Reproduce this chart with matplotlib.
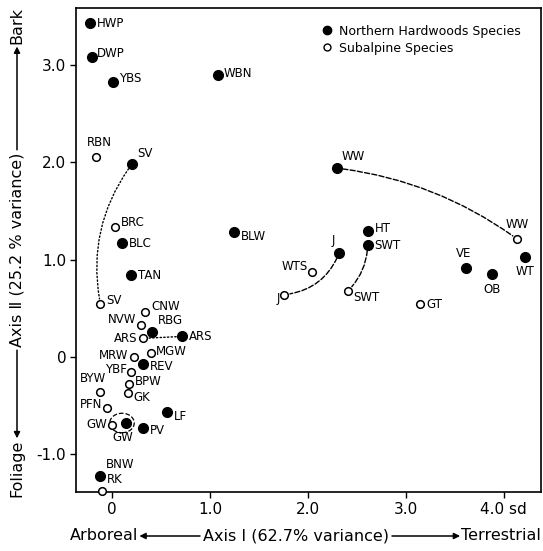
import matplotlib
matplotlib.use("Agg")
import matplotlib.pyplot as plt
from matplotlib.lines import Line2D
from matplotlib.patches import Ellipse

# Northern hardwoods species (filled circles)
nh_names = ["HWP", "DWP", "YBS", "WBN", "SV", "BLC", "BLW", "TAN", "RBG", "ARS", "REV",
            "GW", "PV", "LF", "BNW", "WW", "HT", "SWT", "J", "VE", "OB", "WT"]
nh_x = [-0.23, -0.21, 0.01, 1.08, 0.20, 0.10, 1.24, 0.19, 0.41, 0.71, 0.31,
        0.14, 0.31, 0.56, -0.12, 2.30, 2.61, 2.61, 2.32, 3.62, 3.88, 4.22]
nh_y = [3.43, 3.08, 2.83, 2.90, 1.98, 1.17, 1.28, 0.84, 0.26, 0.21, -0.07,
        -0.68, -0.73, -0.57, -1.22, 1.94, 1.29, 1.15, 1.07, 0.91, 0.85, 1.03]

# Subalpine species (open circles)
sa_names = ["RBN", "BRC", "SV", "CNW", "NVW", "ARS", "MRW", "MGW", "YBF", "BPW", "GK",
            "BYW", "PFN", "GW", "RK", "WW", "WTS", "J", "SWT", "GT"]
sa_x = [-0.17, 0.03, -0.12, 0.34, 0.29, 0.31, 0.22, 0.40, 0.19, 0.17, 0.16,
        -0.13, -0.05, 0.00, -0.10, 4.14, 2.04, 1.76, 2.41, 3.15]
sa_y = [2.05, 1.34, 0.54, 0.46, 0.33, 0.19, 0.00, 0.04, -0.16, -0.28, -0.37,
        -0.36, -0.53, -0.70, -1.38, 1.21, 0.87, 0.64, 0.68, 0.54]

# species sampled in both habitats, joined by a line
pairs = ["SV", "ARS", "J", "SWT", "WW"]

x_ticks = [0, 1, 2, 3, 4]
x_ticklabels = ["0", "1.0", "2.0", "3.0", "4.0 sd"]
y_ticks = [-1, 0, 1, 2, 3]
y_ticklabels = ["-1.0", "0", "1.0", "2.0", "3.0"]

# label offsets (points) and alignment
R, L, C = "left", "right", "center"
nh_lab = {
    "HWP": (5, 0, R, "center"), "DWP": (4, 3, R, "center"), "YBS": (4, 2, R, "center"),
    "WBN": (4, 1, R, "center"), "SV": (4, 3, R, "bottom"), "BLC": (5, 0, R, "center"),
    "BLW": (5, -3, R, "center"), "TAN": (5, 0, R, "center"), "RBG": (4, 3, R, "bottom"),
    "ARS": (5, 0, R, "center"), "REV": (5, -2, R, "center"), "GW": (-2, -6, C, "top"),
    "PV": (5, -2, R, "center"), "LF": (5, -3, R, "center"), "BNW": (4, 3, R, "bottom"),
    "WW": (3, 4, R, "bottom"), "HT": (5, 2, R, "center"), "SWT": (5, 0, R, "center"),
    "J": (-3, 4, L, "bottom"), "VE": (-2, 6, C, "bottom"), "OB": (0, -6, C, "top"),
    "WT": (0, -6, C, "top"),
}
sa_lab = {
    "RBN": (3, 6, C, "bottom"), "BRC": (4, 3, R, "center"), "SV": (4, 3, R, "center"),
    "CNW": (4, 4, R, "center"), "NVW": (-3, 4, L, "center"), "ARS": (-4, 0, L, "center"),
    "MRW": (-4, 1, L, "center"), "MGW": (3, 1, R, "center"), "YBF": (-3, 2, L, "center"),
    "BPW": (4, 2, R, "center"), "GK": (4, -3, R, "center"), "BYW": (-5, 5, C, "bottom"),
    "PFN": (-4, 3, L, "center"), "GW": (-4, 0, L, "center"), "RK": (3, 4, R, "bottom"),
    "WW": (0, 6, C, "bottom"), "WTS": (-3, 4, L, "center"), "J": (-3, -3, L, "center"),
    "SWT": (4, -5, R, "center"), "GT": (4, 0, R, "center"),
}
pair_style = {"SV": (":", 0.22), "ARS": (":", 0.0), "J": ("--", -0.3),
              "SWT": ("--", -0.2), "WW": ("--", -0.13)}

fig = plt.figure(figsize=(5.43, 5.51), dpi=100)
ax = fig.add_axes([0.140, 0.107, 0.856, 0.879])
ax.set_xlim(-0.37, 4.38)
ax.set_ylim(-1.39, 3.59)

ax.plot(nh_x, nh_y, "o", ms=7, color="black", clip_on=False, zorder=3)
ax.plot(sa_x, sa_y, "o", ms=5.5, mfc="white", mec="black", mew=1.1, clip_on=False, zorder=3)

for names, xs, ys, lab in [(nh_names, nh_x, nh_y, nh_lab), (sa_names, sa_x, sa_y, sa_lab)]:
    for n, x, y in zip(names, xs, ys):
        dx, dy, ha, va = lab[n]
        ax.annotate(n, (x, y), xytext=(dx, dy), textcoords="offset points",
                    ha=ha, va=va, fontsize=8.5)

for n in pairs:
    i = nh_names.index(n)
    j = sa_names.index(n)
    ls, rad = pair_style[n]
    ax.annotate("", xy=(sa_x[j], sa_y[j]), xytext=(nh_x[i], nh_y[i]),
                arrowprops=dict(arrowstyle="-", ls=ls, lw=1.0, color="black",
                                shrinkA=4, shrinkB=4,
                                connectionstyle=f"arc3,rad={rad}"))

# dashed ring around the two GW points
gi = nh_names.index("GW")
gj = sa_names.index("GW")
cx = (nh_x[gi] + sa_x[gj]) / 2 + 0.03
cy = (nh_y[gi] + sa_y[gj]) / 2 + 0.01
ax.add_patch(Ellipse((cx, cy), 0.25, 0.20, fill=False, ls="--", lw=0.9, color="black"))

ax.set_xticks(x_ticks)
ax.set_xticklabels(x_ticklabels)
ax.set_yticks(y_ticks)
ax.set_yticklabels(y_ticklabels)
ax.tick_params(direction="out", length=4, width=1, labelsize=11, pad=3)
for s in ax.spines.values():
    s.set_linewidth(1.2)

handles = [Line2D([], [], ls="", marker="o", ms=6, color="black"),
           Line2D([], [], ls="", marker="o", ms=5, mfc="white", mec="black", mew=1.0)]
ax.legend(handles, ["Northern Hardwoods Species", "Subalpine Species"],
          loc="upper left", bbox_to_anchor=(0.515, 0.975), frameon=False,
          fontsize=9, handlelength=1.0, handletextpad=0.5, labelspacing=0.3,
          borderaxespad=0)

# axis captions, arrows fitted between the words afterwards
H = 551
W = 543
fs = 11.5
by = H - 536
t_arb = fig.text(70 / W, by / H, "Arboreal", ha="left", va="center", fontsize=fs)
t_ax1 = fig.text(296 / W, by / H, "Axis \u2160 (62.7% variance)", ha="center",
                 va="center", fontsize=fs)
t_ter = fig.text(541 / W, by / H, "Terrestrial", ha="right", va="center", fontsize=fs)

lx = 17
t_bark = fig.text(lx / W, (H - 25) / H, "Bark", ha="center", va="center", rotation=90,
                  fontsize=fs)
t_ax2 = fig.text(lx / W, (H - 250) / H, "Axis \u2161 (25.2 % variance)", ha="center",
                 va="center", rotation=90, fontsize=fs)
t_fol = fig.text(lx / W, (H - 468) / H, "Foliage", ha="center", va="center", rotation=90,
                 fontsize=fs)

fig.canvas.draw()
r = fig.canvas.get_renderer()
bb = {k: t.get_window_extent(r) for k, t in
      [("arb", t_arb), ("ax1", t_ax1), ("ter", t_ter),
       ("bark", t_bark), ("ax2", t_ax2), ("fol", t_fol)]}

arrow = dict(arrowstyle="-|>", lw=1.1, color="black", mutation_scale=9,
             shrinkA=0, shrinkB=0)
def fig_arrow(p_to, p_from):
    ax.annotate("", xy=p_to, xytext=p_from, xycoords="figure pixels",
                textcoords="figure pixels", arrowprops=arrow)

fig_arrow((bb["arb"].x1 + 1, by), (bb["ax1"].x0 - 3, by))
fig_arrow((bb["ter"].x0 - 1, by), (bb["ax1"].x1 + 3, by))
fig_arrow((lx, bb["bark"].y0 - 3), (lx, bb["ax2"].y1 + 3))
fig_arrow((lx, bb["fol"].y1 + 1), (lx, bb["ax2"].y0 - 3))

fig.savefig("out.png", dpi=100)
